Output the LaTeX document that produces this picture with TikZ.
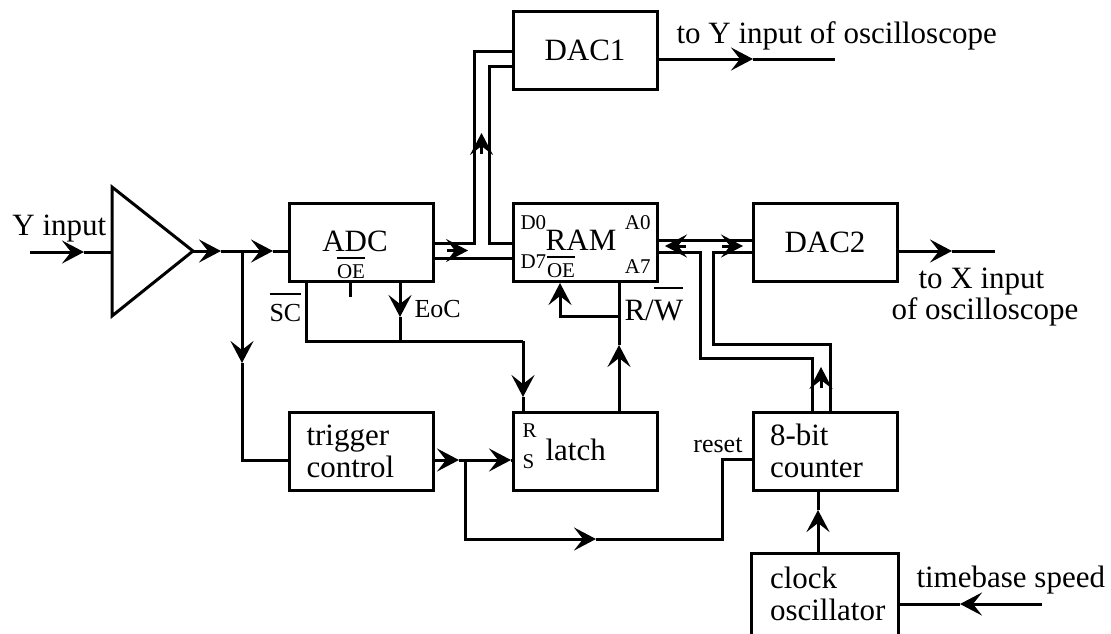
\documentclass[tikz,border=0pt]{standalone}
\usepackage{fontspec}
\setmainfont{Liberation Serif}
\usetikzlibrary{arrows.meta}
\newcommand\fbig{\fontsize{31}{32}\selectfont}
\newcommand\fmid{\fontsize{26}{28}\selectfont}
\newcommand\fsmall{\fontsize{21}{22}\selectfont}
\newcommand\ovl[2][5pt]{\vbox{\hrule height 2pt\kern#1\hbox{#2}}}
\tikzset{
  blok/.style={draw, minimum width=144pt, minimum height=78pt, inner sep=0pt,
    text width=110pt, align=left, font=\fbig},
  lbl/.style={anchor=base west, inner sep=0pt, font=\fbig},
}
\begin{document}
\begin{tikzpicture}[x=1pt, y=-1pt, line width=3pt, >={Stealth[length=22pt,width=23pt,inset=9pt]}]
\clip (0,0) rectangle (1111,633);
% blocks
\node[blok, align=center] (dac1) at (585,50.5) {DAC1};
\node[blok] (adc) at (361,242.5) {};
\node[blok] (ram) at (585,242.5) {};
\node[blok, align=center] (dac2) at (825,242.5) {DAC2};
\node[blok] (trig) at (361.5,451) {trigger\\control};
\node[blok] (latch) at (585,451) {};
\node[blok] (cnt) at (825,451) {8-bit\\counter};
\node[blok, draw=none] (clk) at (825,594) {clock\\oscillator};
\draw (clk.south west) -- (clk.north west) -- (clk.north east) -- (clk.south east);
% labels
\node[lbl] (yin) at (11,235) {Y input};
\node[lbl, anchor=base] (adcl) at (355,251) {ADC};
\node[lbl, anchor=base, font=\fsmall] (adcoe) at (351,278) {\ovl{OE}};
\node[lbl, anchor=base] (raml) at (581,250) {RAM};
\node[lbl, anchor=base, font=\fsmall] (ramoe) at (561,277) {\ovl{OE}};
\node[lbl, font=\fsmall] (d0) at (519,229) {D0};
\node[lbl, font=\fsmall] (d7) at (519,268) {D7};
\node[lbl, anchor=base east, font=\fsmall] (a0) at (652,229) {A0};
\node[lbl, anchor=base east, font=\fsmall] (a7) at (652,273) {A7};
\node[lbl] (toy) at (675,43) {to Y input of oscilloscope};
\node[lbl] (tox) at (917,288) {to X input};
\node[lbl] (ofo) at (890,319) {of oscilloscope};
\node[lbl, font=\fmid] (sc) at (268,321) {\ovl[9pt]{SC}};
\node[lbl, font=\fmid] (eoc) at (413,317) {EoC};
\node[lbl] (rw) at (623,320) {R/\ovl[11pt]{W}};
\node[lbl, font=\fsmall] (rin) at (521,437) {R};
\node[lbl, font=\fsmall] (sin) at (521,468) {S};
\node[lbl] (latchl) at (544,460) {latch};
\node[lbl, anchor=base east, font=\fmid] (rst) at (744,452) {reset};
\node[lbl] (tbs) at (915,587) {timebase speed};
\path
  (30,252) coordinate (yin0) (84,252) coordinate (yin1)
  (112,187) coordinate (ampT) (112,316) coordinate (ampB) (193,251) coordinate (ampO)
  (221,251) coordinate (s1) (242,251) coordinate (sbr) (273,251) coordinate (s2)
  (242,363) coordinate (sdn) (242,460) coordinate (sbot)
  (474,243) coordinate (bu1) (474,51) coordinate (bu2)
  (489,66) coordinate (bi1) (489,243) coordinate (bi2) (470,258) coordinate (bl)
  (447,250.5) coordinate (ba0) (468,250.5) coordinate (ba1)
  (481.5,154) coordinate (bb0) (481.5,133) coordinate (bb1)
  (753,59) coordinate (o1a) (835,59) coordinate (o1b)
  (700,240) coordinate (ru) (700,252) coordinate (rl1) (700,358) coordinate (rl2) (812,358) coordinate (rl3)
  (713,252) coordinate (ri1) (713,344) coordinate (ri2) (830,344) coordinate (ri3)
  (686,246) coordinate (bc0) (665,246) coordinate (bc1)
  (722,246) coordinate (bd0) (743,246) coordinate (bd1)
  (821,388) coordinate (be0) (821,367) coordinate (be1)
  (952,251) coordinate (o2a) (995,251) coordinate (o2b)
  (619,316) coordinate (rwj) (560,316) coordinate (oeb) (619,345) coordinate (rwa)
  (306,341) coordinate (sc1) (400,341) coordinate (eoc1) (400,317) coordinate (eoca)
  (523,341) coordinate (rj) (523,397) coordinate (ra) (350,297) coordinate (tick)
  (459,460) coordinate (t1) (465,460) coordinate (tbr) (511,460) coordinate (t2)
  (465,539) coordinate (tb1) (596,539) coordinate (tb2) (722,539) coordinate (tb3) (722,459) coordinate (tb4)
  (818,510) coordinate (ca) (1042,604) coordinate (tim0) (960,604) coordinate (tima);
% input and amplifier
\draw[->] (yin0) -- (yin1);
\draw (yin1) -- (yin1 -| ampT);
\draw (ampT) -- (ampB) -- (ampO) -- cycle;
\draw[->] (ampO) -- (s1);
\draw[->] (s1) -- (s2);
\draw (s2) -- (s2 -| adc.west);
\draw[->] (sbr) -- (sdn);
\draw (sdn) -- (sbot) -- (sbot -| trig.west);
% data bus
\draw (bu1 -| adc.east) -- (bu1) -- (bu2) -- (bu2 -| dac1.west);
\draw (bi1 -| dac1.west) -- (bi1) -- (bi2) -- (bi2 -| ram.west);
\draw (bl -| adc.east) -- (bl -| ram.west);
\draw[->] (ba0) -- (ba1);
\draw[->] (bb0) -- (bb1);
\draw[->] (o1a -| dac1.east) -- (o1a);
\draw (o1a) -- (o1b);
% address bus
\draw (ru -| ram.east) -- (ru -| dac2.west);
\draw (rl1 -| ram.east) -- (rl1) -- (rl2) -- (rl3) -- (rl3 |- cnt.north);
\draw (ri3 |- cnt.north) -- (ri3) -- (ri2) -- (ri1) -- (ri1 -| dac2.west);
\draw[->] (bc0) -- (bc1);
\draw[->] (bd0) -- (bd1);
\draw[->] (be0) -- (be1);
\draw[->] (dac2.east |- o2a) -- (o2a);
\draw (o2a) -- (o2b);
% control
\draw[->] (rwj) -- (oeb) -- (oeb |- ram.south);
\draw[->] (rwj |- latch.north) -- (rwa);
\draw (rwa) -- (rwj |- ram.south);
\draw (sc1 |- adc.south) -- (sc1) -- (rj);
\draw[->] (rj) -- (ra);
\draw (ra) -- (ra |- latch.north);
\draw[->] (eoc1 |- adc.south) -- (eoca);
\draw (eoca) -- (eoc1);
\draw (tick |- adc.south) -- (tick);
% trigger, counter, clock
\draw[->] (t1 -| trig.east) -- (t1);
\draw[->] (t1) -- (t2);
\draw (t2) -- (t2 -| latch.west);
\draw[->] (tbr) -- (tb1) -- (tb2);
\draw (tb2) -- (tb3) -- (tb4) -- (tb4 -| cnt.west);
\draw[->] (ca |- clk.north) -- (ca);
\draw (ca) -- (ca |- cnt.south);
\draw[->] (tim0) -- (tima);
\draw (tima) -- (tima -| clk.east);
\end{tikzpicture}
\end{document}
